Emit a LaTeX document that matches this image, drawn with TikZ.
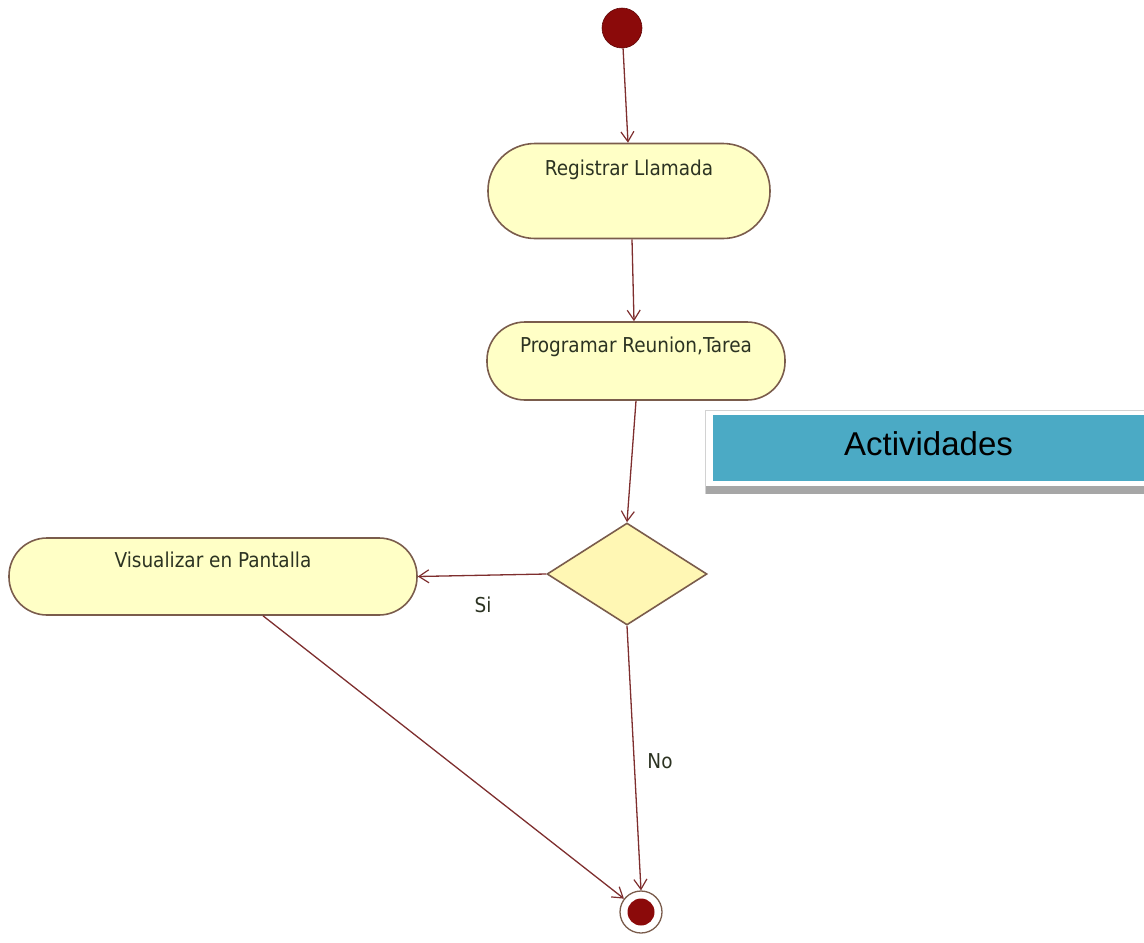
\documentclass[tikz,border=0pt]{standalone}
\usepackage{fontspec}
\usetikzlibrary{shapes.geometric,arrows.meta,calc}
\newfontfamily\umlfont{DejaVu Sans Condensed}
\newfontfamily\boxfont{Liberation Sans}
\definecolor{actfill}{HTML}{FFFFC6}
\definecolor{actedge}{HTML}{7A5C4C}
\definecolor{decfill}{HTML}{FFF7B4}
\definecolor{flowline}{HTML}{7E2E2E}
\definecolor{dotred}{HTML}{8B0A0A}
\definecolor{umltext}{HTML}{2C3322}
\definecolor{bannerblue}{HTML}{4BAAC5}
\begin{document}
\begin{tikzpicture}[x=1pt,y=-1pt,
  activity/.style={rectangle, draw=actedge, line width=1.6pt, fill=actfill,
    inner sep=0pt, text height=15pt, font=\umlfont\fontsize{20.5}{24}\selectfont,
    text=umltext},
  decision/.style={diamond, draw=actedge, line width=1.6pt, fill=decfill,
    inner sep=0pt, minimum width=160pt, minimum height=102pt},
  flow/.style={draw=flowline, line width=1.3pt,
    -{Straight Barb[length=10pt,width=13pt,line width=1.2pt]}},
  guard/.style={font=\umlfont\fontsize{20.5}{24}\selectfont, text=umltext},
  initial/.style={circle, fill=dotred, draw=dotred!70!black, line width=0.6pt,
    minimum size=40pt, inner sep=0pt},
  final/.style={circle, draw=actedge, line width=1.3pt, fill=white,
    minimum size=42pt, inner sep=0pt,
    path picture={\fill[dotred] (path picture bounding box.center) circle (13.5pt);}}
]
\useasboundingbox (0,0) rectangle (1144,943);

% activity nodes
\node[initial] (start) at (622,28) {};
\node[activity, minimum width=282pt, minimum height=95pt, rounded corners=47pt,
      text depth=47pt] (reg) at (629,191) {Registrar Llamada};
\node[activity, minimum width=298pt, minimum height=78pt, rounded corners=38pt,
      text depth=33pt] (prog) at (636,361) {Programar Reunion,Tarea};
\node[decision] (dec) at (627,574) {};
\node[activity, minimum width=408pt, minimum height=77pt, rounded corners=38pt,
      text depth=34pt] (vis) at (213,576.5) {Visualizar en Pantalla};
\node[final] (end) at (641,912) {};

% control flows
\draw[flow] (start) -- ([xshift=-1pt]reg.north);
\draw[flow] ([xshift=3pt]reg.south) -- ([xshift=-2pt]prog.north);
\draw[flow] (prog.south) -- (dec.north);
\draw[flow] (dec.west) -- (vis.east);
\draw[flow] (dec.south) -- (end.north);
\draw[flow] ([xshift=50pt]vis.south) -- (end);

% guards
\node[guard] (si) at (483,605) {Si};
\node[guard] (no) at (660,761) {No};

% title banner with frame and shadow
\fill[gray!70] (705,485) rectangle (1144,494);
\fill[white] (705,410) rectangle (1144,486);
\draw[gray!35, line width=1pt] (705.5,494) -- (705.5,410.5) -- (1144,410.5);
\node[rectangle, fill=bannerblue, inner sep=0pt, minimum width=431pt,
      minimum height=66pt, text height=24pt, text depth=10pt,
      font=\boxfont\fontsize{33}{38}\selectfont] (title) at (928.5,448) {Actividades};
\end{tikzpicture}
\end{document}
